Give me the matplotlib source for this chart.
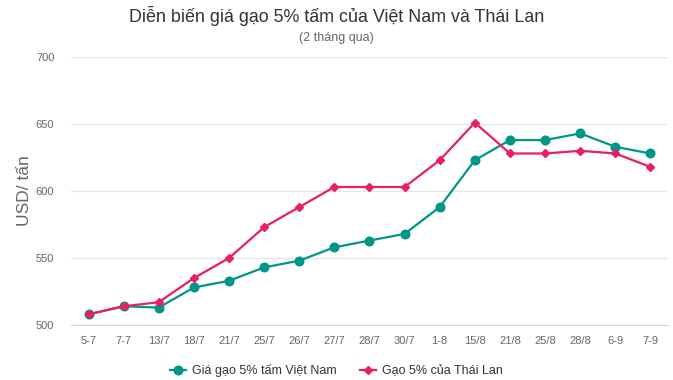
import matplotlib.pyplot as plt

plt.rcParams['font.family'] = ['Liberation Sans', 'DejaVu Sans']

# Dữ liệu
dates = ['5-7', '7-7', '13/7', '18/7', '21/7', '25/7', '26/7', '27/7', '28/7',
         '30/7', '1-8', '15/8', '21/8', '25/8', '28/8', '6-9', '7-9']
vietnam = [508, 514, 513, 528, 533, 543, 548, 558, 563, 568, 588, 623, 638, 638, 643, 633, 628]
thailand = [508, 514, 517, 535, 550, 573, 588, 603, 603, 603, 623, 651, 628, 628, 630, 628, 618]

fig = plt.figure(figsize=(6.73, 3.80), dpi=100)
ax = fig.add_axes([0.1055, 0.1447, 0.887, 0.7053])

x = list(range(len(dates)))
ax.plot(x, vietnam, color='#009688', lw=1.6, marker='o', ms=6.2,
        label='Giá gạo 5% tấm Việt Nam', zorder=3)
ax.plot(x, thailand, color='#e91e63', lw=1.6, marker='D', ms=4.2,
        label='Gạo 5% của Thái Lan', zorder=4)

ax.set_xlim(-0.5, len(dates) - 0.5)
ax.set_ylim(500, 700)
ax.set_yticks([500, 550, 600, 650, 700])
ax.set_xticks(x)
ax.set_xticklabels(dates)
ax.tick_params(axis='both', length=0, labelsize=8, colors='#666666')
ax.tick_params(axis='x', pad=8)
ax.tick_params(axis='y', pad=12)
ax.grid(axis='y', color='#e6e6e6', lw=1)
ax.set_axisbelow(True)
for s in ['top', 'right', 'left']:
    ax.spines[s].set_visible(False)
ax.spines['bottom'].set_color('#ccd6eb')

ax.set_ylabel('USD/ tấn', fontsize=12.5, color='#666666', labelpad=3)

fig.text(0.5, 0.958, 'Diễn biến giá gạo 5% tấm của Việt Nam và Thái Lan',
         ha='center', va='center', fontsize=12.9, color='#333333')
fig.text(0.5, 0.9, '(2 tháng qua)', ha='center', va='center', fontsize=9, color='#666666')

fig.legend(loc='center', bbox_to_anchor=(0.5, 0.025), ncol=2, frameon=False,
           fontsize=9, handlelength=1.3, handletextpad=0.5, columnspacing=1.8,
           labelcolor='#333333')

plt.savefig('out.png')
